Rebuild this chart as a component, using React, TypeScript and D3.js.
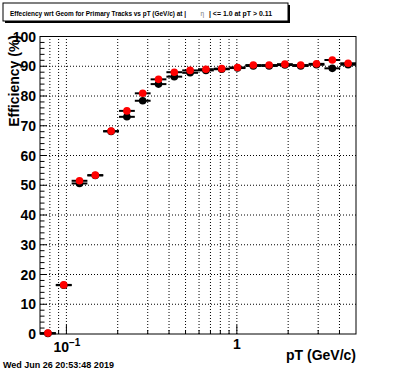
import React from 'react';
import * as d3 from 'd3';

const binEdges = [0.07, 0.0867, 0.1073, 0.1328, 0.1644, 0.2035, 0.252, 0.3119, 0.3861, 0.4779, 0.5917, 0.7325, 0.9068, 1.1226, 1.3897, 1.7204, 2.1297, 2.6363, 3.2637, 4.0402, 5.0];
const effBlack = [0.2, 16.4, 50.6, 53.3, 68.1, 73.0, 78.4, 84.0, 86.5, 87.8, 88.6, 89.0, 89.4, 90.1, 90.1, 90.4, 90.1, 90.5, 89.3, 90.5];
const effRed = [0.3, 16.5, 51.5, 53.4, 68.2, 75.0, 80.9, 85.6, 88.0, 88.6, 89.0, 89.2, 89.6, 90.4, 90.4, 90.7, 90.4, 90.8, 92.1, 91.0];
const yMajorTicks = [0, 10, 20, 30, 40, 50, 60, 70, 80, 90, 100];
const xMinorTicks = [0.08, 0.09, 0.2, 0.3, 0.4, 0.5, 0.6, 0.7, 0.8, 0.9, 2, 3, 4];
const xMajorTicks = [0.1, 1];

const W = 396;
const H = 372;
const FONT = '"Liberation Sans", Arial, Helvetica, sans-serif';

export default function App() {
  const x = d3.scaleLog().domain([0.07, 5]).range([40, 356]);
  const y = d3.scaleLinear().domain([0, 100]).range([334, 36.5]);
  const [x0, x1] = x.range();
  const [yb, yt] = y.range();
  const yMinor = d3.range(0, 101, 2).filter((v) => v % 10 !== 0);

  const bins = effRed.map((_, i) => ({ lo: binEdges[i], hi: binEdges[i + 1] }));
  const cx = (i: number) => (x(bins[i].lo) + x(bins[i].hi)) / 2;

  const series = (vals: number[], color: string, key: string) => (
    <g key={key}>
      {vals.map((v, i) => (
        <line key={'e' + i} x1={x(bins[i].lo)} x2={x(bins[i].hi)} y1={y(v)} y2={y(v)} stroke="#000" strokeWidth={2} />
      ))}
      {vals.map((v, i) => (
        <circle key={'m' + i} cx={cx(i)} cy={y(v)} r={3.8} fill={color} />
      ))}
    </g>
  );

  return (
    <svg width={W} height={H} style={{ position: 'absolute', left: 0, top: 0, background: '#fff' }} fontFamily={FONT}>
      <rect x={0} y={0} width={W} height={H} fill="#fff" />
      {/* grid */}
      {[...xMinorTicks, ...xMajorTicks].map((t) => (
        <line key={'gx' + t} x1={x(t)} x2={x(t)} y1={yb} y2={yt} stroke="#000" strokeWidth={1} strokeDasharray="1 2" />
      ))}
      {yMajorTicks.filter((t) => t > 0 && t < 100).map((t) => (
        <line key={'gy' + t} x1={x0} x2={x1} y1={y(t)} y2={y(t)} stroke="#000" strokeWidth={1} strokeDasharray="1 2" />
      ))}
      {/* frame */}
      <rect x={x0} y={yt} width={x1 - x0} height={yb - yt} fill="none" stroke="#000" strokeWidth={1} />
      {/* y ticks */}
      {yMajorTicks.map((t) => (
        <g key={'yt' + t}>
          <line x1={x0} x2={x0 + 7} y1={y(t)} y2={y(t)} stroke="#000" />
          <text x={36} y={y(t) + 5} textAnchor="end" fontSize={14} fontWeight="bold">{t}</text>
        </g>
      ))}
      {yMinor.map((t) => (
        <line key={'ym' + t} x1={x0} x2={x0 + 4.5} y1={y(t)} y2={y(t)} stroke="#000" />
      ))}
      {/* x ticks */}
      {xMinorTicks.map((t) => (
        <line key={'xm' + t} x1={x(t)} x2={x(t)} y1={yb} y2={yb - 4} stroke="#000" />
      ))}
      {xMajorTicks.map((t) => (
        <line key={'xM' + t} x1={x(t)} x2={x(t)} y1={yb} y2={yb - 9} stroke="#000" />
      ))}
      <text x={x(0.1) - 13} y={352} fontSize={14} fontWeight="bold">
        10<tspan dy={-6} fontSize={10}>−1</tspan>
      </text>
      <text x={x(1)} y={349} textAnchor="middle" fontSize={14} fontWeight="bold">1</text>
      {/* axis titles */}
      <text x={356} y={360} textAnchor="end" fontSize={14} fontWeight="bold">pT (GeV/c)</text>
      <text transform="translate(19,35) rotate(-90)" textAnchor="end" fontSize={14} fontWeight="bold">Efficiency (%)</text>
      {/* data */}
      {series(effBlack, '#000', 'black')}
      {series(effRed, '#ff0000', 'red')}
      {/* title box */}
      <rect x={5} y={5} width={285} height={18} fill="#000" />
      <rect x={3} y={3} width={285} height={18} fill="#fff" stroke="#000" strokeWidth={1} />
      <text x={10} y={15.5} fontSize={7} fontWeight="bold" textLength={176} lengthAdjust="spacingAndGlyphs">
        Effeciency wrt Geom for Primary Tracks vs pT (GeV/c) at |
      </text>
      <text x={200.5} y={15.5} fontSize={6.5} fill="#777">η</text>
      <text x={209} y={15.5} fontSize={7} fontWeight="bold" textLength={63} lengthAdjust="spacingAndGlyphs">
        | &lt;= 1.0 at pT &gt; 0.11
      </text>
      {/* date */}
      <text x={3} y={368} fontSize={9} fontWeight="bold">Wed Jun 26 20:53:48 2019</text>
    </svg>
  );
}
